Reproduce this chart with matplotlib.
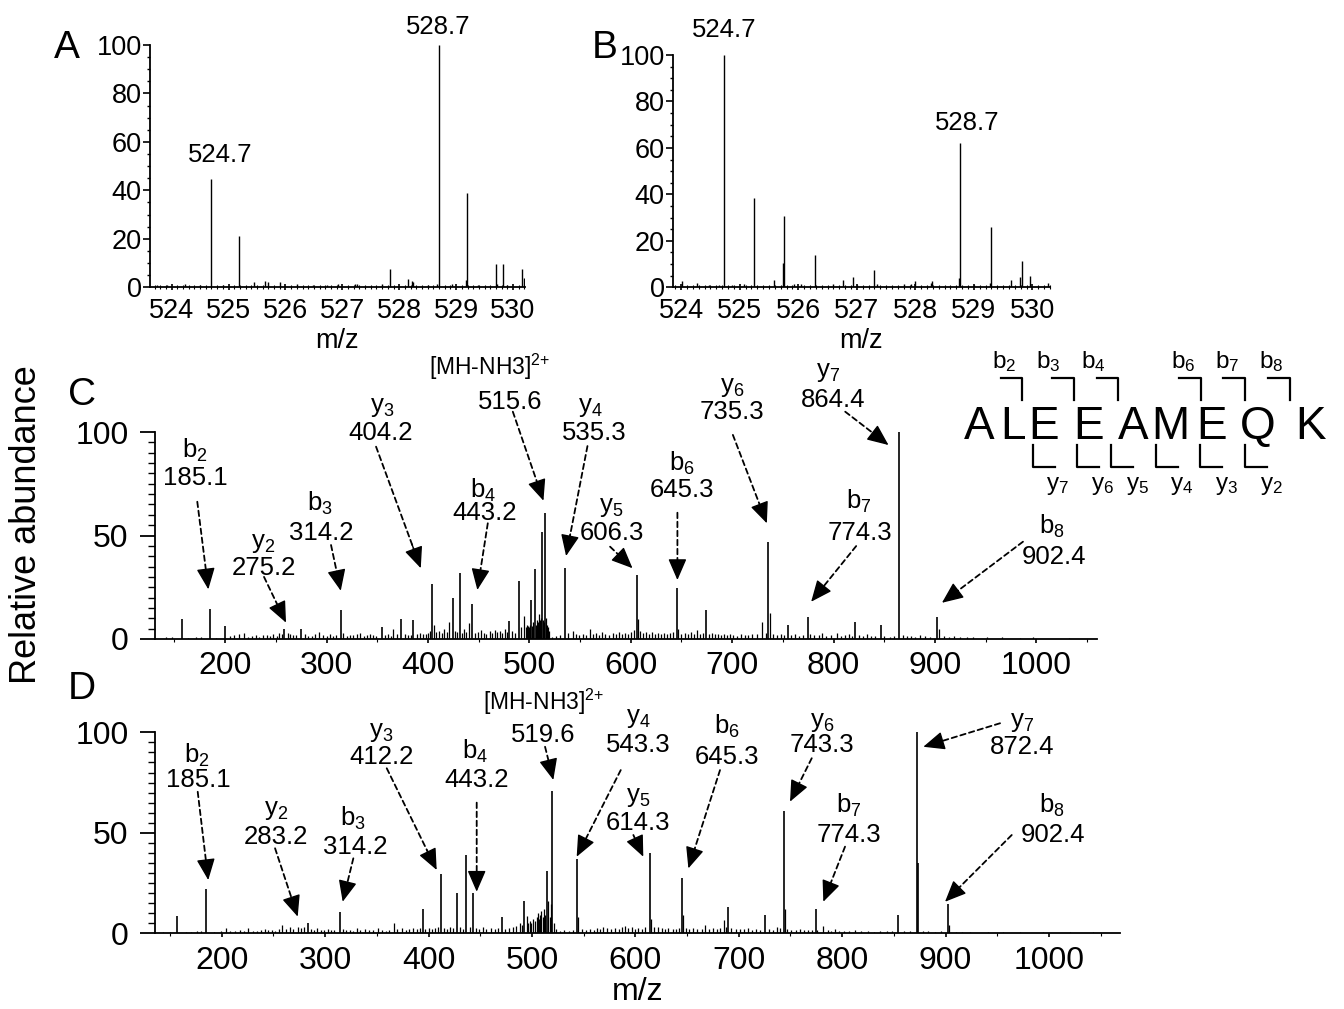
import matplotlib
matplotlib.use("Agg")
import matplotlib.pyplot as plt
from matplotlib.ticker import MultipleLocator

plt.rcParams['font.family'] = ['Liberation Sans', 'DejaVu Sans']
plt.rcParams['mathtext.fontset'] = 'custom'
plt.rcParams['mathtext.rm'] = 'Liberation Sans'
plt.rcParams['mathtext.it'] = 'Liberation Sans'
plt.rcParams['mathtext.bf'] = 'Liberation Sans:bold'
plt.rcParams['mathtext.sf'] = 'Liberation Sans'

W, H = 1344, 1009

# ---- panel A : precursor region, sample 1 ----
a_mz = [524.69, 525.19, 527.83, 528.16, 528.70, 529.19, 529.70, 529.83, 530.16,
        523.74, 523.92, 524.24, 524.50, 524.91, 525.44, 525.64, 525.70, 525.91,
        526.20, 526.49, 526.73, 526.93, 527.22, 527.25, 527.69, 528.22, 528.25,
        528.51, 528.66, 528.92, 529.18, 529.39, 529.72, 529.89, 530.19]
a_int = [44.6, 21.2, 7.6, 3.4, 100, 39.0, 9.5, 9.5, 7.6,
         1.0, 1.0, 1.2, 0.8, 0.8, 2.0, 2.5, 2.0, 2.0,
         1.2, 1.0, 1.0, 1.2, 1.5, 1.5, 1.2, 2.5, 2.0,
         1.0, 1.5, 1.2, 3.0, 0.8, 1.5, 1.0, 4.0]
a_labels = ["524.7", "528.7"]

# ---- panel B : precursor region, sample 2 ----
b_mz = [524.73, 525.25, 525.76, 525.74, 526.28, 527.29, 528.77, 529.29, 529.82, 529.96,
        524.01, 524.27, 524.48, 524.64, 524.86, 525.07, 525.59, 525.93, 526.05,
        526.59, 526.76, 526.93, 527.01, 527.34, 527.80, 527.92, 528.00, 528.26,
        528.29, 528.75, 529.01, 529.27, 529.63, 529.79, 530.27]
b_int = [100, 38.6, 30.8, 10.6, 13.8, 7.5, 62.0, 26.1, 11.2, 4.9,
         2.5, 2.0, 0.8, 0.8, 1.0, 1.5, 3.0, 1.5, 1.5,
         1.5, 3.0, 4.5, 1.0, 1.5, 1.5, 1.5, 2.5, 2.0,
         2.5, 4.0, 1.0, 2.0, 3.0, 4.5, 2.0]
b_labels = ["524.7", "528.7"]

# ---- panel C : MS/MS of 515.6 ----
c_mz = [157.2, 185.1, 199.8, 258.5, 275.2, 314.2, 354.5, 373.5, 385.5, 404.2,
        424.5, 431.5, 443.2, 480.4, 489.7, 501.8, 505.7, 512.6, 515.6, 535.3,
        606.3, 645.3, 674.4, 735.3, 755.3, 774.3, 821.3, 846.7, 864.4, 902.4]
c_int = [9.5, 14.6, 6.5, 4.7, 5.0, 14.0, 6.0, 9.5, 9.0, 26.6,
         20.0, 32.0, 17.0, 8.7, 28.0, 19.0, 34.0, 51.5, 61.0, 34.4,
         31.0, 24.5, 14.0, 46.7, 7.0, 10.8, 8.0, 7.0, 100, 10.8]
c_small_mz = [142, 148, 163, 171, 176, 191, 205, 209, 214, 219, 223, 226, 230, 233, 237,
              241, 244, 247, 251, 253, 256, 262, 264, 267, 270, 279, 282, 286, 289, 293,
              296, 300, 303, 306, 309, 316, 320, 323, 326, 330, 333, 337, 340, 343, 346,
              349, 358, 361, 364, 366, 369, 377, 380, 383, 389, 392, 395, 398, 400, 402,
              406, 408, 411, 414, 416, 419, 421, 427, 429, 434, 436, 438, 440, 446, 449,
              452, 455, 457, 461, 463, 466, 468, 471, 473, 476, 478, 483, 486, 492, 495,
              497, 498, 499, 500, 501, 503, 504, 506.5, 507.5, 508.5, 509.5, 510.5, 511.5,
              513.5, 514.5, 516.5, 517.5, 518.5, 519.5, 522, 526, 530, 538, 542.7, 546,
              549, 553, 556, 560.2, 563, 566, 569, 572, 575, 579, 582, 585, 588, 591,
              594, 597, 600, 603, 607.5, 609, 612, 615, 618, 621, 624, 627, 630, 633,
              636, 639, 642, 647, 650, 653, 656, 659, 662, 665, 668, 671, 677, 680, 683,
              686, 689, 692, 695, 698, 701, 705, 709, 713, 716, 720, 724, 729.7, 733, 737,
              740, 744, 748, 751, 758, 762, 766, 770, 777, 781, 786, 789, 793, 797, 803,
              807, 811, 815, 818, 825, 829, 833, 837, 841, 850, 856, 860, 868, 872, 876,
              880, 885, 890, 895, 904, 909, 914, 919, 925, 932, 938, 951, 966, 984, 997, 1032]
c_small_int = [1.0, 0.8, 0.6, 0.8, 1.2, 0.7, 1.5, 2.0, 2.5, 3.0, 1.2, 1.5, 2.0, 1.0, 1.8,
               2.0, 1.4, 2.5, 1.6, 3.0, 2.2, 3.0, 2.4, 1.8, 2.0, 2.5, 1.5, 1.6, 2.2, 3.5,
               1.8, 1.6, 2.4, 1.5, 2.0, 3.0, 1.6, 2.0, 1.8, 2.4, 3.0, 1.5, 1.9, 2.2, 2.0,
               1.4, 2.0, 2.4, 1.6, 5.0, 2.2, 2.6, 2.0, 1.8, 2.2, 2.8, 2.4, 2.6, 3.0, 4.0,
               7.0, 3.5, 4.0, 3.0, 5.0, 3.6, 8.0, 4.0, 3.5, 3.0, 5.0, 3.2, 7.5, 3.0, 3.5,
               4.5, 3.0, 2.6, 4.0, 3.0, 4.5, 3.2, 4.0, 3.0, 5.0, 3.5, 4.0, 3.0, 6.0, 11.0,
               6.0, 7.0, 6.5, 6.0, 7.0, 6.5, 8.0, 7.0, 9.0, 8.0, 12.0, 9.0, 10.0,
               9.0, 8.0, 10.0, 7.0, 6.0, 4.0, 1.0, 1.5, 2.0, 3.0, 4.0, 2.5,
               2.0, 2.6, 2.0, 5.0, 2.4, 3.0, 2.0, 3.2, 2.5, 2.0, 3.0, 2.2, 3.5, 2.6,
               3.0, 2.2, 3.5, 4.5, 9.5, 4.0, 3.0, 3.4, 2.6, 3.2, 2.4, 3.0, 2.6, 3.0,
               2.2, 2.8, 3.4, 5.0, 2.6, 3.0, 2.4, 3.2, 2.6, 4.5, 2.4, 3.0, 2.6, 2.8, 2.2,
               2.6, 2.0, 2.4, 1.8, 2.2, 2.0, 1.6, 2.4, 2.0, 1.8, 2.2, 2.6, 8.0, 3.0, 12.7,
               2.5, 2.0, 2.2, 1.8, 2.0, 2.4, 1.6, 2.0, 2.2, 1.8, 2.0, 3.0, 1.6, 1.8, 3.0,
               1.6, 1.8, 2.4, 1.6, 1.8, 1.4, 2.4, 1.4, 1.6, 1.4, 1.2, 1.6, 1.8, 1.4, 1.6,
               1.2, 1.8, 1.4, 1.2, 5.0, 1.4, 1.0, 1.4, 0.8, 1.0, 0.8, 0.8, 0.8, 0.7, 0.8, 0.6]

# ---- panel D : MS/MS of 519.6 ----
d_mz = [157.1, 185.1, 283.2, 314.2, 394.4, 412.2, 427.3, 436.5, 443.2, 470.8,
        492.3, 514.3, 519.6, 543.3, 614.3, 645.3, 690.0, 725.4, 743.3, 774.3,
        854.3, 872.4, 873.4, 902.4]
d_int = [8.6, 22.0, 5.0, 10.6, 12.0, 29.5, 20.2, 39.1, 20.2, 8.0,
         16.0, 31.0, 70.8, 37.0, 39.8, 27.7, 13.2, 9.0, 60.8, 12.0,
         8.9, 100, 35.0, 14.6]
d_small_mz = [143, 150, 165, 170, 176, 180, 193, 199, 204.2, 208, 213, 218, 222, 225.7,
              230, 234, 238, 241.9, 245, 249, 252, 255, 258.6, 262, 266, 269, 273.5, 277,
              280, 286, 289, 292, 296, 299, 303.1, 306, 309, 317, 320, 324, 327, 330.6,
              334, 338.6, 342, 346, 351.4, 355, 359, 362, 366.6, 370, 374, 378, 381, 385.3,
              389, 392, 397, 400, 403, 406, 409, 415, 418, 420.8, 424, 430.5, 433, 440,
              446, 449, 453, 456, 460, 464, 467, 474, 478, 482, 485, 488.5, 490, 494.8,
              496.5, 498.2, 499.5, 501.2, 503, 504.5, 505.7, 507, 508, 509, 510.5, 511.5,
              512.5, 516, 517.5, 518.5, 521, 523, 527, 531, 536, 540, 544.3, 548, 552,
              556, 560, 563, 566, 569, 572.4, 576, 580, 584, 587, 589.9, 593, 596.5, 600,
              603, 606, 609, 615.3, 618, 622.2, 626, 629, 632, 636, 639, 642, 646.3, 649,
              652, 656, 660, 664, 667.4, 671, 675, 679, 682, 685.8, 688, 693, 697, 701,
              705, 709, 713, 717, 721, 729, 733, 736.7, 740, 744.3, 747, 751, 755, 759.2,
              763, 767, 771, 776, 781.8, 786, 789, 793.1, 797, 802, 807, 812.5, 818, 825.3,
              831, 837, 843.3, 848, 860, 866, 878, 883.4, 890, 896, 903.4, 910, 916, 923.6,
              941.4, 955.9, 972, 994.5, 1020.4, 1043]
d_small_int = [0.8, 0.6, 0.7, 0.8, 1.0, 1.2, 0.8, 1.0, 2.5, 1.2, 1.0, 1.4, 1.0, 2.5,
               1.2, 1.0, 1.6, 2.0, 1.4, 1.8, 1.2, 2.2, 4.0, 2.0, 3.0, 2.0, 3.0, 2.4,
               3.0, 2.0, 1.6, 2.4, 1.4, 1.8, 2.0, 1.4, 1.6, 2.0, 1.4, 1.8, 1.2, 2.5,
               1.4, 2.0, 1.6, 1.4, 2.5, 1.6, 1.2, 1.8, 5.3, 2.0, 2.5, 1.8, 2.2, 2.5,
               2.0, 2.4, 2.2, 2.8, 2.0, 2.4, 3.0, 2.6, 2.0, 3.0, 2.4, 3.0, 2.2, 3.0,
               2.6, 2.0, 3.0, 2.2, 2.6, 2.0, 2.4, 2.0, 2.4, 3.0, 3.5, 5.0, 4.0, 8.5,
               5.0, 6.0, 5.0, 7.0, 6.0, 8.0, 10.0, 7.0, 9.0, 11.0, 8.0, 12.0,
               9.0, 16.0, 8.0, 14.5, 5.0, 2.0, 1.2, 1.5, 1.2, 1.6, 8.0, 2.0, 1.6,
               2.2, 1.8, 2.4, 2.0, 3.0, 2.5, 2.0, 2.6, 2.0, 3.0, 3.5, 2.4, 3.0, 2.2,
               2.6, 2.0, 3.0, 7.0, 3.0, 3.0, 2.4, 2.0, 2.6, 2.2, 2.0, 2.4, 9.0, 2.6,
               2.0, 2.4, 2.0, 2.2, 4.0, 2.0, 2.4, 2.0, 2.6, 6.5, 3.0, 2.6, 2.0, 2.2,
               2.0, 2.4, 1.8, 2.0, 1.6, 2.0, 1.8, 3.0, 2.4, 12.0, 2.0, 1.6, 1.8, 2.0,
               1.4, 1.6, 1.4, 1.6, 3.5, 1.4, 1.2, 2.0, 1.2, 1.0, 1.2, 1.5, 1.0, 1.0,
               0.8, 1.0, 1.0, 1.2, 1.0, 1.2, 1.0, 1.0, 0.8, 1.0, 4.0, 0.8, 0.7, 0.8,
               0.7, 0.7, 0.7, 0.7, 0.6, 0.6]

# fragment labels: ion, mass text, ion xy, mass xy, arrow start, arrow tip (data units)
c_ann = [
    ("b$_2$", "185.1", 170.3, 91.3, 170.3, 77.8, 172.5, 66.3, 183.4, 24.0),
    ("y$_2$", "275.2", 237.3, 46.4, 238.3, 34.3, 238.3, 30.0, 260.0, 7.9),
    ("b$_3$", "314.2", 293.6, 65.7, 294.6, 51.2, 304.4, 45.4, 314.0, 23.3),
    ("y$_3$", "404.2", 354.4, 112.2, 353.7, 99.5, 348.8, 92.9, 392.9, 34.2),
    ("b$_4$", "443.2", 454.4, 72.0, 456.3, 60.9, 459.0, 55.9, 448.7, 23.7),
    ("[MH-NH3]$^{2{+}}$", "515.6", 461.3, 131.4, 481.0, 114.6, 483.7, 109.8, 513.9, 66.8),
    ("y$_4$", "535.3", 559.9, 112.2, 563.9, 99.5, 557.3, 93.2, 536.2, 40.1),
    ("y$_5$", "606.3", 581.0, 63.9, 581.0, 51.2, 579.6, 44.6, 601.7, 34.2),
    ("b$_6$", "645.3", 650.4, 85.0, 650.4, 72.0, 646.0, 61.0, 646.0, 28.5),
    ("y$_6$", "735.3", 699.7, 121.9, 699.7, 109.8, 700.7, 98.6, 734.2, 55.9),
    ("y$_7$", "864.4", 794.7, 129.0, 799.9, 115.5, 811.5, 109.8, 854.2, 93.7),
    ("b$_7$", "774.3", 824.6, 66.3, 826.3, 51.1, 822.3, 44.9, 777.9, 18.0),
    ("b$_8$", "902.4", 1015.4, 54.3, 1017.0, 39.8, 986.8, 47.0, 906.9, 17.5),
]
d_ann = [
    ("b$_2$", "185.1", 176.4, 88.7, 177.4, 76.3, 176.8, 70.4, 187.0, 26.5),
    ("y$_2$", "283.2", 252.5, 61.3, 252.5, 48.1, 251.6, 42.3, 273.5, 8.3),
    ("b$_3$", "314.2", 327.3, 57.2, 328.9, 43.1, 327.3, 37.3, 317.0, 15.7),
    ("y$_3$", "412.2", 354.7, 100.3, 354.7, 87.9, 359.6, 82.1, 407.9, 31.5),
    ("b$_4$", "443.2", 445.0, 90.3, 446.6, 76.3, 446.6, 65.0, 446.6, 20.7),
    ("[MH-NH3]$^{2{+}}$", "519.6", 511.0, 115.2, 511.0, 98.7, 512.7, 92.8, 520.7, 76.3),
    ("y$_4$", "543.3", 602.9, 107.0, 602.9, 93.7, 585.9, 81.2, 543.3, 38.1),
    ("y$_5$", "614.3", 602.9, 68.0, 602.9, 54.7, 598.1, 48.9, 607.7, 38.1),
    ("b$_6$", "645.3", 688.4, 102.8, 688.4, 87.9, 681.9, 81.2, 651.3, 32.3),
    ("y$_6$", "743.3", 780.3, 105.3, 780.3, 93.7, 770.6, 87.1, 749.6, 65.5),
    ("y$_7$", "872.4", 973.7, 105.3, 973.7, 92.8, 952.7, 104.5, 878.5, 92.8),
    ("b$_7$", "774.3", 806.0, 63.8, 807.0, 48.9, 802.8, 43.1, 781.8, 15.7),
    ("b$_8$", "902.4", 1002.7, 63.8, 1004.3, 48.9, 964.0, 48.9, 899.5, 15.7),
]

# peptide sequence and its fragment brackets
sequence = "ALEEAMEQK"
b_ions = ["b$_2$", "b$_3$", "b$_4$", "b$_6$", "b$_7$", "b$_8$"]
y_ions = ["y$_7$", "y$_6$", "y$_5$", "y$_4$", "y$_3$", "y$_2$"]


def px_axes(fig, left, top, right, bottom):
    return fig.add_axes([left / W, 1 - bottom / H, (right - left) / W, (bottom - top) / H])


def style_axes(ax):
    for s in ["top", "right"]:
        ax.spines[s].set_visible(False)
    for s in ["left", "bottom"]:
        ax.spines[s].set_linewidth(1.3)


def label_ions(ax, ann):
    for ion, mass, ix, iy, mx, my, sx, sy, ex, ey in ann:
        fs_ion = 16.5 if ion.startswith("[") else 18.5
        ax.text(ix, iy, ion, ha="center", va="center", fontsize=fs_ion, clip_on=False)
        ax.text(mx, my, mass, ha="center", va="center", fontsize=18.5, clip_on=False)
        # dashed shaft
        ax.annotate("", xy=(ex, ey), xytext=(sx, sy), annotation_clip=False,
                    arrowprops=dict(arrowstyle="-", linestyle=(0, (3, 2)), lw=1.3,
                                    color="k", shrinkA=0, shrinkB=6))
        # solid filled head
        hx, hy = ex + 0.2 * (sx - ex), ey + 0.2 * (sy - ey)
        ax.annotate("", xy=(ex, ey), xytext=(hx, hy), annotation_clip=False,
                    arrowprops=dict(arrowstyle="-|>,head_length=0.6,head_width=0.26",
                                    lw=1.0, color="k", shrinkA=0, shrinkB=0,
                                    mutation_scale=22))


fig = plt.figure(figsize=(W / 100, H / 100), dpi=100)

# ---- A and B ----
for box, xl, mz, inten, labs, labpos in [
        ((150, 45, 525, 287.3), (523.62, 530.21), a_mz, a_int, a_labels,
         [(524.86, 54.6), (528.68, 107.4)]),
        ((673, 55, 1050, 287.3), (523.86, 530.30), b_mz, b_int, b_labels,
         [(524.73, 110.8), (528.88, 70.9)])]:
    ax = px_axes(fig, *box)
    style_axes(ax)
    ax.vlines(mz, 0, inten, colors="k", lw=1.0)
    ax.set_xlim(*xl)
    ax.set_ylim(0, 100)
    ax.xaxis.set_major_locator(MultipleLocator(1))
    ax.xaxis.set_minor_locator(MultipleLocator(0.1))
    ax.yaxis.set_major_locator(MultipleLocator(20))
    ax.yaxis.set_minor_locator(MultipleLocator(5))
    ax.tick_params(axis="y", which="major", length=5, width=1.2, pad=1, labelsize=19.5)
    ax.tick_params(axis="y", which="minor", length=2.5, width=1.0)
    ax.tick_params(axis="x", which="major", direction="inout", length=5, width=1.2,
                   pad=5, labelsize=19.5)
    ax.tick_params(axis="x", which="minor", direction="inout", length=3, width=0.8)
    ax.set_xlabel("m/z", fontsize=19.5, labelpad=3)
    for t, (x, y) in zip(labs, labpos):
        ax.text(x, y, t, ha="center", va="center", fontsize=18.5, clip_on=False)

# ---- C and D ----
for box, xl, mz, inten, smz, sint, ann in [
        ((155, 432, 1097, 639), (130.8, 1059.8), c_mz, c_int, c_small_mz, c_small_int, c_ann),
        ((155, 732.3, 1120, 933.3), (135.5, 1068.7), d_mz, d_int, d_small_mz, d_small_int, d_ann)]:
    ax = px_axes(fig, *box)
    style_axes(ax)
    ax.vlines(smz, 0, sint, colors="k", lw=0.9)
    ax.vlines(mz, 0, inten, colors="k", lw=1.2)
    ax.set_xlim(*xl)
    ax.set_ylim(0, 100)
    ax.set_xticks(range(200, 1001, 100))
    ax.xaxis.set_minor_locator(MultipleLocator(50))
    ax.yaxis.set_major_locator(MultipleLocator(50))
    ax.yaxis.set_minor_locator(MultipleLocator(5))
    ax.tick_params(axis="y", which="major", length=11, width=1.3, pad=8, labelsize=23)
    ax.tick_params(axis="y", which="minor", length=5, width=1.0)
    ax.tick_params(axis="x", which="major", length=3, width=1.2, pad=6, labelsize=23)
    ax.tick_params(axis="x", which="minor", length=2, width=0.8)
    label_ions(ax, ann)
    last = ax
last.set_xlabel("m/z", fontsize=23, labelpad=1)

# ---- overlay in pixel units: panel letters, y label, sequence map ----
ov = fig.add_axes([0, 0, 1, 1])
ov.set_xlim(0, W)
ov.set_ylim(H, 0)
ov.axis("off")
for letter, (x, y) in zip("ABCD", [(67, 58), (605, 58), (82, 405), (82, 699)]):
    ov.text(x, y, letter, ha="center", va="baseline", fontsize=28)
ov.text(27, 525, "Relative abundance", rotation=90, ha="center", va="center", fontsize=26)

aa_x = [979.2, 1012.5, 1043.3, 1088.3, 1133.3, 1170.0, 1211.7, 1257.7, 1310.7]
for ch, x in zip(sequence, aa_x):
    ov.text(x, 439.3, ch, ha="center", va="baseline", fontsize=33)
b_x = [(1000.7, 1021.7, 1003.8), (1051.7, 1074.0, 1048.7), (1096.7, 1118.3, 1093.0),
       (1179.3, 1200.7, 1183.0), (1223.3, 1245.0, 1227.2), (1267.7, 1290.0, 1271.3)]
for lab, (x0, x1, xt) in zip(b_ions, b_x):
    ov.plot([x0, x1, x1], [378.3, 378.3, 400], color="k", lw=1.6)
    ov.text(xt, 367.7, lab, ha="center", va="baseline", fontsize=17.5)
y_x = [(1032.7, 1055.0, 1057.8), (1077.3, 1099.3, 1103.0), (1111.0, 1133.3, 1137.2),
       (1155.7, 1177.7, 1182.0), (1200.0, 1221.7, 1226.3), (1245.0, 1266.7, 1271.2)]
for lab, (x0, x1, xt) in zip(y_ions, y_x):
    ov.plot([x0, x0, x1], [445, 466.7, 466.7], color="k", lw=1.6)
    ov.text(xt, 490, lab, ha="center", va="baseline", fontsize=17.5)

fig.savefig("out.png", dpi=100)
